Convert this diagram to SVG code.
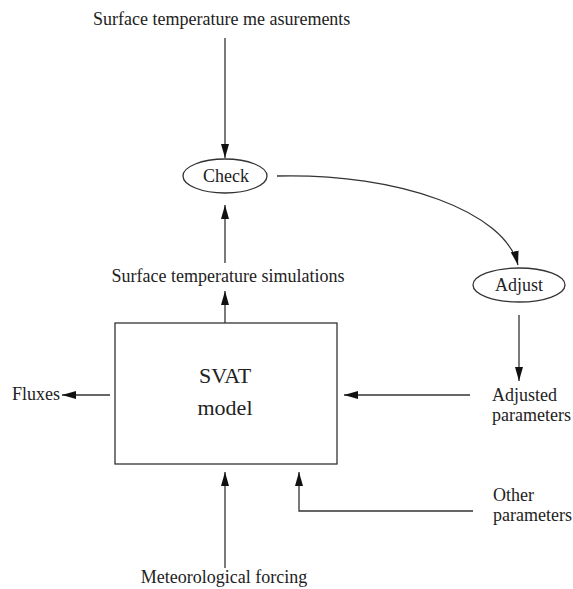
<svg xmlns="http://www.w3.org/2000/svg" width="573" height="589" viewBox="0 0 573 589">
<style>
  text { font-family: "Liberation Serif", "Times New Roman", serif; font-size: 18px; fill: #222; }
  .big { font-size: 22px; }
  .mid { text-anchor: middle; }
  .shape { fill: #fff; stroke: #333; stroke-width: 1.3; }
  .conn { fill: none; stroke: #333; stroke-width: 1.3; marker-end: url(#ah); }
</style>
<defs>
  <marker id="ah" viewBox="0 0 14 8" refX="14" refY="4" markerWidth="14" markerHeight="8" markerUnits="userSpaceOnUse" orient="auto">
    <path d="M0,0 L14,4 L0,8 Z" fill="#111"/>
  </marker>
</defs>
<rect width="573" height="589" fill="#fff"/>

<g id="connectors">
  <line class="conn" x1="225" y1="38" x2="225" y2="158"/>
  <line class="conn" x1="225" y1="263" x2="225" y2="205"/>
  <line class="conn" x1="225" y1="323" x2="225" y2="291"/>
  <path class="conn" d="M277,176 C400,173 505,212 518,265"/>
  <line class="conn" x1="519" y1="315" x2="519" y2="381"/>
  <line class="conn" x1="470" y1="395" x2="344" y2="395"/>
  <line class="conn" x1="110" y1="395" x2="62" y2="395"/>
  <line class="conn" x1="225" y1="568" x2="225" y2="472"/>
  <polyline class="conn" points="473,511 299,511 299,472"/>
</g>

<g id="measurements">
  <text x="93" y="25">Surface temperature me asurements</text>
</g>

<g id="check">
  <ellipse class="shape" cx="225" cy="176" rx="42" ry="17"/>
  <text class="mid" x="226" y="182">Check</text>
</g>

<g id="adjust">
  <ellipse class="shape" cx="519" cy="285" rx="46" ry="17"/>
  <text class="mid" x="519" y="291">Adjust</text>
</g>

<g id="simulations">
  <text class="mid" x="228" y="282">Surface temperature simulations</text>
</g>

<g id="svat">
  <rect class="shape" x="115" y="323" width="222" height="141"/>
  <text class="mid big" x="225" y="383">SVAT</text>
  <text class="mid big" x="225" y="415">model</text>
</g>

<g id="fluxes">
  <text x="12" y="400">Fluxes</text>
</g>

<g id="adjusted">
  <text x="492" y="401">Adjusted</text>
  <text x="492" y="421">parameters</text>
</g>

<g id="other">
  <text x="493" y="501">Other</text>
  <text x="493" y="521">parameters</text>
</g>

<g id="meteo">
  <text class="mid" x="224" y="583">Meteorological forcing</text>
</g>
</svg>
